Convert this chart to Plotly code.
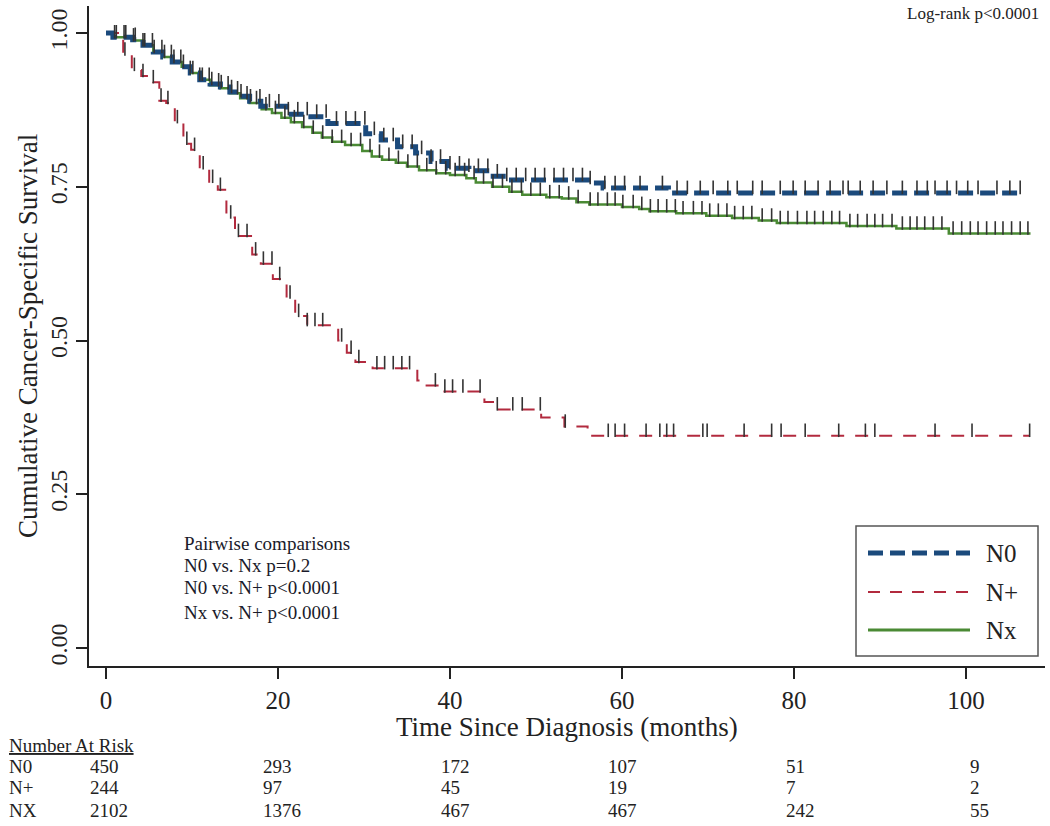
import bisect
import plotly.graph_objects as go

# Kaplan-Meier step data (time in months, survival)
n0_time = [0, 0.8, 3.1, 4.3, 5.5, 6.6, 7.7, 8.8, 9.8, 10.9, 12.1, 13.3, 14.4, 15.6, 16.7, 18.0,
           21.0, 23.5, 25.8, 30.2, 32.0, 33.9, 36.0, 37.8, 39.7, 42.2, 44.6, 46.6, 56.0, 57.8, 65.4, 106.3]
n0_surv = [1.0, 0.993, 0.989, 0.980, 0.969, 0.961, 0.953, 0.945, 0.935, 0.924, 0.917, 0.912, 0.904, 0.897, 0.889, 0.881,
           0.868, 0.864, 0.853, 0.836, 0.826, 0.815, 0.805, 0.791, 0.780, 0.776, 0.767, 0.761, 0.756, 0.748, 0.740, 0.740]

npos_time = [0, 2.0, 3.0, 4.1, 5.5, 6.2, 7.0, 8.0, 9.0, 9.9, 10.9, 12.0, 13.0, 14.0, 15.0, 17.0, 18.0,
             19.4, 21.0, 22.0, 23.4, 27.0, 28.0, 29.0, 31.0, 36.2, 37.0, 39.0, 44.0, 45.0, 50.6, 53.3, 56.0, 107.4]
npos_surv = [1.0, 0.965, 0.94, 0.93, 0.92, 0.89, 0.886, 0.855, 0.82, 0.81, 0.78, 0.758, 0.745, 0.70, 0.67, 0.64, 0.625,
             0.60, 0.57, 0.54, 0.525, 0.50, 0.48, 0.465, 0.455, 0.435, 0.427, 0.417, 0.40, 0.388, 0.375, 0.36, 0.345, 0.345]

nx_time = [0, 0.8, 3.1, 4.3, 5.5, 6.6, 7.7, 8.8, 9.8, 10.9, 12.1, 13.3, 14.4, 15.6, 16.7, 18.1, 19.3, 20.4,
           21.5, 22.8, 24.0, 25.1, 26.3, 27.8, 29.8, 30.9, 32.1, 33.7, 35.0, 36.4, 38.4, 40.0, 41.9, 43.0,
           44.9, 46.9, 48.4, 51.2, 53.0, 54.7, 56.2, 60.0, 62.0, 63.2, 66.3, 69.8, 72.8, 75.9, 78.0, 86.1,
           91.9, 98.0, 107.5]
nx_surv = [1.0, 0.993, 0.988, 0.980, 0.969, 0.961, 0.953, 0.945, 0.935, 0.924, 0.915, 0.910, 0.902, 0.894, 0.886, 0.876, 0.870, 0.862,
           0.855, 0.847, 0.838, 0.830, 0.823, 0.818, 0.808, 0.799, 0.794, 0.789, 0.783, 0.777, 0.772, 0.769, 0.764, 0.757,
           0.750, 0.742, 0.737, 0.733, 0.731, 0.725, 0.721, 0.717, 0.714, 0.710, 0.707, 0.703, 0.699, 0.695, 0.691, 0.686,
           0.682, 0.674, 0.674]

# censoring times (vertical tick marks)
n0_cens = [1.2, 2.3, 3.4, 4.5, 5.6, 6.8, 7.9, 9.0, 10.1, 11.2, 12.3, 13.4, 14.6, 15.7, 16.8, 17.9, 19.0, 20.1,
           21.2, 22.3, 23.4, 24.5, 25.6, 26.8, 27.9, 29.0, 30.1, 31.2, 32.3, 33.4, 34.5, 35.6, 36.7, 37.8,
           38.9, 40.0, 41.1, 42.2, 43.3, 44.4, 45.5, 46.6, 47.7, 48.8, 49.9, 51.0, 52.1, 53.2, 54.3, 55.4,
           56.3, 58.0, 59.2, 60.3, 62.1, 64.7, 66.4, 67.6, 69.1, 70.6, 72.3, 73.4, 75.2, 76.3, 78.4, 79.9,
           81.3, 82.8, 84.2, 85.7, 86.3, 87.7, 89.2, 90.8, 92.6, 94.3, 95.5, 96.4, 97.8, 98.9, 100.2, 101.4,
           103.6, 105.1, 106.3]
npos_cens = [2.2, 3.3, 4.3, 5.5, 6.4, 7.2, 8.3, 9.4, 10.3, 11.3, 12.4, 13.3, 14.5, 15.4, 16.4, 17.4, 18.3,
             19.3, 20.2, 21.4, 22.4, 23.4, 24.3, 25.2, 27.4, 28.5, 29.4, 31.5, 32.4, 33.4, 34.4, 35.3, 38.3,
             39.4, 40.3, 41.5, 43.5, 45.5, 47.3, 48.4, 50.5, 53.4, 58.4, 59.2, 60.3, 62.8, 64.4, 65.2, 66.0,
             69.4, 69.9, 74.2, 77.4, 78.5, 81.3, 85.2, 88.3, 89.4, 96.4, 100.7, 107.4]
nx_cens = [1.0, 2.1, 3.2, 4.3, 5.4, 6.5, 7.6, 8.7, 9.8, 10.9, 12.0, 13.1, 14.2, 15.3, 16.4, 17.5, 18.6, 19.7,
           20.8, 21.9, 23.0, 24.1, 25.2, 26.3, 27.4, 28.5, 29.6, 30.7, 31.8, 32.9, 34.0, 35.1, 36.2, 37.3,
           38.4, 39.5, 40.6, 41.7, 42.8, 43.9, 45.0, 46.1, 47.2, 48.3, 49.4, 50.5, 51.6, 52.7, 53.8, 54.9,
           56.3, 57.2, 58.3, 59.2, 60.1, 61.3, 62.3, 63.3, 64.2, 65.2, 66.2, 67.1, 68.3, 69.3, 70.2, 71.2,
           72.2, 73.1, 74.1, 75.1, 76.3, 77.4, 78.4, 79.3, 80.4, 81.5, 82.4, 83.4, 84.4, 85.3, 86.5, 87.4,
           88.5, 89.4, 90.3, 91.4, 92.6, 93.5, 94.3, 95.2, 96.2, 97.2, 98.5, 99.5, 100.5, 101.4, 102.4,
           103.4, 104.3, 105.3, 106.3, 107.2]

# number at risk table
risk_times = [0, 20, 40, 60, 80, 100]
risk_groups = ["N0", "N+", "NX"]
risk_n0 = [450, 293, 172, 107, 51, 9]
risk_npos = [244, 97, 45, 19, 7, 2]
risk_nx = [2102, 1376, 467, 467, 242, 55]

FONT = "Liberation Serif"
W, H = 1050, 826
L, R, T, B = 89, 1045, 6, 666


def px_x(px):
    return (px - L) / (R - L)


def px_y(py):
    return (B - py) / (B - T)


def surv_at(times, surv, t):
    i = bisect.bisect_right(times, t) - 1
    return surv[max(i, 0)]


def cens_xy(times, surv, cens):
    xs, ys = [], []
    for t in cens:
        s = surv_at(times, surv, t)
        xs += [t, t, None]
        ys += [s - 0.002, s + 0.02, None]
    return xs, ys


fig = go.Figure()

fig.add_trace(go.Scatter(x=nx_time, y=nx_surv, mode="lines", line_shape="hv",
                         line=dict(color="#4a8a34", width=2.5), name="Nx", showlegend=False))
fig.add_trace(go.Scatter(x=npos_time, y=npos_surv, mode="lines", line_shape="hv",
                         line=dict(color="#b22a3e", width=2, dash="13px,11px"), name="N+", showlegend=False))
fig.add_trace(go.Scatter(x=n0_time, y=n0_surv, mode="lines", line_shape="hv",
                         line=dict(color="#1b4a7c", width=5, dash="15px,7px"), name="N0", showlegend=False))

for times, surv, cens in [(nx_time, nx_surv, nx_cens), (npos_time, npos_surv, npos_cens), (n0_time, n0_surv, n0_cens)]:
    cx, cy = cens_xy(times, surv, cens)
    fig.add_trace(go.Scatter(x=cx, y=cy, mode="lines", line=dict(color="#333333", width=1.6),
                             showlegend=False, hoverinfo="skip"))

for v in [0.25, 0.5, 0.75, 1.0]:
    fig.add_hline(y=v, line=dict(color="#dcecf0", width=1), layer="below")

annotations = []
annotations.append(dict(text="Cumulative Cancer-Specific Survival", x=px_x(28), y=px_y(336), textangle=-90,
                        font=dict(size=27, family=FONT, color="#222")))
annotations.append(dict(text="Time Since Diagnosis (months)", x=px_x(567), y=px_y(727),
                        font=dict(size=27, family=FONT, color="#222")))
annotations.append(dict(text="Log-rank p<0.0001", x=px_x(1041), y=px_y(14), xanchor="right",
                        font=dict(size=17, family=FONT, color="#222")))

pair_lines = ["Pairwise comparisons", "N0 vs. Nx p=0.2", "N0 vs. N+ p<0.0001", "Nx vs. N+ p<0.0001"]
for txt, py in zip(pair_lines, [543, 565, 587, 612]):
    annotations.append(dict(text=txt, x=px_x(182), y=px_y(py), xanchor="left",
                            font=dict(size=19, family=FONT, color="#1a1a2a")))

annotations.append(dict(text="<u>Number At Risk</u>", x=px_x(7), y=px_y(745), xanchor="left",
                        font=dict(size=19, family=FONT, color="#222")))
col_px = [88, 261, 439, 606, 784, 968]
for grp, vals, py in zip(risk_groups, [risk_n0, risk_npos, risk_nx], [766, 787, 810]):
    annotations.append(dict(text=grp, x=px_x(7), y=px_y(py), xanchor="left",
                            font=dict(size=19, family=FONT, color="#222")))
    for v, cx in zip(vals, col_px):
        annotations.append(dict(text=str(v), x=px_x(cx), y=px_y(py), xanchor="left",
                                font=dict(size=19, family=FONT, color="#222")))

# legend drawn by hand (long line samples like the original)
shapes = [dict(type="rect", xref="paper", yref="paper", x0=px_x(856), x1=px_x(1038), y0=px_y(656), y1=px_y(526),
               line=dict(color="#555", width=1.5), fillcolor="white", layer="above")]
leg = [("N0", "#1b4a7c", 5, "15px,7px", 553), ("N+", "#b22a3e", 2, "12px,10px", 592), ("Nx", "#4a8a34", 3, "solid", 630)]
for name, col, wd, dash, py in leg:
    shapes.append(dict(type="line", xref="paper", yref="paper", x0=px_x(868), x1=px_x(970), y0=px_y(py), y1=px_y(py),
                       line=dict(color=col, width=wd, dash=dash), layer="above"))
    annotations.append(dict(text=name, x=px_x(984), y=px_y(py), xanchor="left",
                            font=dict(size=25, family=FONT, color="#222")))

for a in annotations:
    a.setdefault("xref", "paper")
    a.setdefault("yref", "paper")
    a.setdefault("showarrow", False)
    a.setdefault("xanchor", "center")
    a.setdefault("yanchor", "middle")

x_per_px = 20 / 172.0
y_per_px = 0.25 / 153.75
fig.update_layout(
    width=W, height=H,
    margin=dict(l=L, r=W - R, t=T, b=H - B),
    plot_bgcolor="white", paper_bgcolor="white",
    xaxis=dict(range=[(L - 106) * x_per_px, (R - 106) * x_per_px], tickvals=risk_times,
               ticks="outside", ticklen=11, tickwidth=1.5, tickcolor="#222",
               showline=True, linecolor="#222", linewidth=1.5, showgrid=False, zeroline=False,
               tickfont=dict(size=25, family=FONT, color="#222")),
    yaxis=dict(range=[(648 - B) * y_per_px, (648 - T) * y_per_px], tickvals=[0, 0.25, 0.5, 0.75, 1.0],
               ticktext=["0.00", "0.25", "0.50", "0.75", "1.00"], tickangle=-90,
               ticks="outside", ticklen=11, tickwidth=1.5, tickcolor="#222",
               showline=True, linecolor="#222", linewidth=1.5, showgrid=False, zeroline=False,
               tickfont=dict(size=24, family=FONT, color="#222")),
    annotations=annotations,
    shapes=shapes,
)

# drop the default page margin so the 1050x826 figure fills the window exactly
fig.write_html("out.html", config={"displayModeBar": False},
               post_script="document.body.style.margin='0';document.body.style.overflow='hidden';")
